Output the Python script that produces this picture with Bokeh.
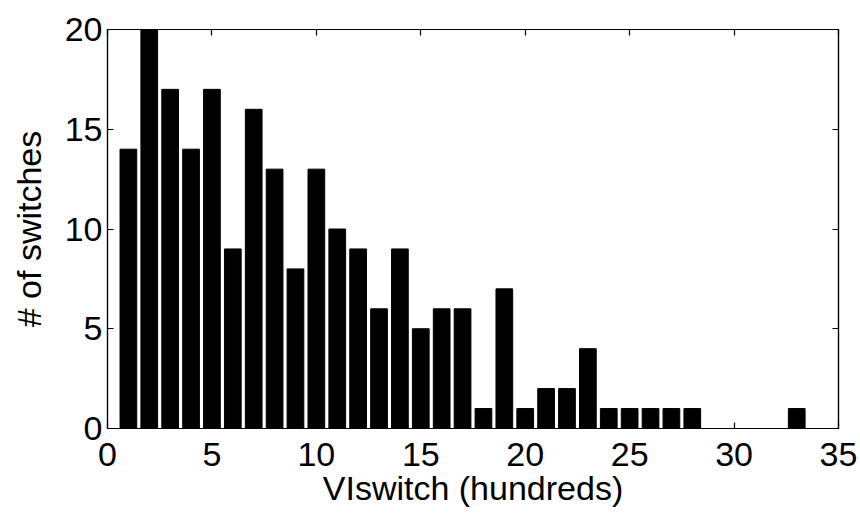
from bokeh.plotting import figure
from bokeh.models import LinearAxis, FixedTicker, Range1d
from bokeh.embed import file_html
from bokeh.resources import INLINE

bins = list(range(1, 34))
counts = [14, 20, 17, 14, 17, 9, 16, 13, 8, 13, 10, 9, 6, 9, 5, 6, 6, 1, 7, 1,
          2, 2, 4, 1, 1, 1, 1, 1, 0, 0, 0, 0, 1]
x_ticks = [0, 5, 10, 15, 20, 25, 30, 35]
y_ticks = [0, 5, 10, 15, 20]
x_label = "VIswitch (hundreds)"
y_label = "# of switches"

FONT = "Liberation Sans"
FS = "34px"

p = figure(width=860, height=513, output_backend="svg", toolbar_location=None,
           x_range=Range1d(0, 35), y_range=Range1d(0, 20),
           min_border_left=107, min_border_right=22, min_border_top=29,
           min_border_bottom=85, x_axis_location=None, y_axis_location=None)
p.grid.visible = False
p.outline_line_color = "black"
p.outline_line_width = 1.2
p.background_fill_color = "white"
p.border_fill_color = "white"

p.vbar(x=bins, top=counts, width=0.8, bottom=0, fill_color="black", line_color="black")

def make_axis(ticks, label, show_labels):
    ax = LinearAxis(ticker=FixedTicker(ticks=ticks))
    ax.axis_label = label
    ax.major_tick_in = 6
    ax.major_tick_out = 0
    ax.minor_tick_in = 0
    ax.minor_tick_out = 0
    ax.axis_line_color = "black"
    ax.axis_line_width = 1.2
    ax.major_tick_line_width = 1.2
    ax.major_tick_line_color = "black"
    ax.major_label_text_font = FONT
    ax.major_label_text_color = "black"
    ax.major_label_text_font_size = FS
    ax.axis_label_text_font = FONT
    ax.axis_label_text_font_style = "normal"
    ax.axis_label_text_color = "black"
    ax.axis_label_text_font_size = FS
    if not show_labels:
        ax.major_label_overrides = {t: "" for t in ticks}
        ax.major_label_standoff = 0
    return ax

xb = make_axis(x_ticks, x_label, True)
xb.major_label_standoff = 14
xb.axis_label_standoff = 0
yl = make_axis(y_ticks, y_label, True)
yl.major_label_standoff = 5
yl.axis_label_standoff = 14
xt = make_axis(x_ticks, None, False)
yr = make_axis(y_ticks, None, False)

p.add_layout(xb, "below")
p.add_layout(yl, "left")
p.add_layout(xt, "above")
p.add_layout(yr, "right")

open("out.html", "w").write(file_html(p, INLINE))
